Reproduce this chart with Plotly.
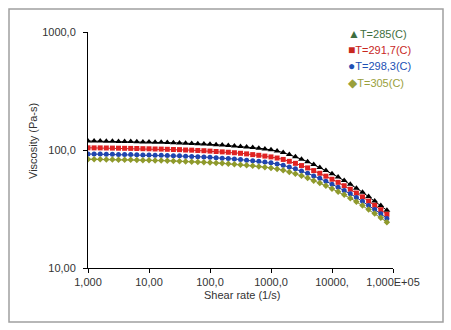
import plotly.graph_objects as go

shear_rate = [1.0, 1.259, 1.585, 1.995, 2.512, 3.162, 3.981, 5.012, 6.310, 7.943,
              10.0, 12.59, 15.85, 19.95, 25.12, 31.62, 39.81, 50.12, 63.10, 79.43,
              100.0, 125.9, 158.5, 199.5, 251.2, 316.2, 398.1, 501.2, 631.0, 794.3,
              1000.0, 1259, 1585, 1995, 2512, 3162, 3981, 5012, 6310, 7943,
              10000, 12590, 15850, 19950, 25120, 31620, 39810, 50120, 63100, 79430]

visc_285 = [119.2, 119.0, 119.0, 118.7, 118.5, 118.3, 118.0, 117.8, 117.6, 117.1,
            116.9, 116.4, 116.2, 115.8, 115.3, 114.9, 114.2, 113.8, 113.1, 112.5,
            111.8, 110.9, 110.1, 109.2, 108.2, 107.1, 106.1, 104.8, 103.6, 102.2,
            100.6, 98.1, 95.1, 91.4, 87.6, 83.6, 79.6, 75.2, 71.2, 67.0,
            62.9, 59.0, 55.1, 51.3, 47.5, 43.9, 40.3, 37.0, 33.8, 30.8]

visc_2917 = [104.4, 104.2, 104.2, 104.0, 103.8, 103.6, 103.4, 103.2, 103.0, 102.6,
             102.4, 102.0, 101.8, 101.4, 101.0, 100.7, 100.0, 99.7, 99.1, 98.6,
             97.9, 97.1, 96.4, 95.7, 94.8, 93.8, 92.7, 91.4, 90.2, 88.8,
             87.4, 85.5, 83.2, 80.2, 77.1, 73.8, 70.5, 66.9, 63.5, 60.0,
             56.5, 53.2, 49.8, 46.5, 43.2, 40.1, 36.9, 34.0, 31.2, 28.5]

visc_2983 = [92.5, 92.3, 92.3, 92.1, 92.0, 91.8, 91.6, 91.4, 91.3, 90.9,
             90.7, 90.3, 90.2, 89.9, 89.5, 89.2, 88.6, 88.3, 87.8, 87.3,
             86.8, 85.9, 85.3, 84.6, 83.9, 83.0, 82.0, 81.0, 80.1, 79.0,
             77.8, 76.2, 74.3, 71.7, 69.2, 66.4, 63.5, 60.3, 57.5, 54.3,
             51.3, 48.4, 45.4, 42.5, 39.6, 36.7, 33.9, 31.3, 28.8, 26.3]

visc_305 = [83.4, 83.3, 83.3, 83.1, 83.0, 82.8, 82.6, 82.5, 82.3, 82.0,
            81.8, 81.5, 81.3, 81.1, 80.7, 80.4, 79.9, 79.7, 79.2, 78.8,
            78.3, 77.6, 77.1, 76.4, 75.7, 75.0, 74.3, 73.4, 72.5, 71.5,
            70.4, 69.1, 67.4, 65.2, 62.9, 60.4, 57.9, 55.0, 52.5, 49.7,
            46.9, 44.3, 41.7, 39.0, 36.4, 33.8, 31.3, 28.9, 26.6, 24.4]

series_names = ["T=285(C)", "T=291,7(C)", "T=298,3(C)", "T=305(C)"]

x_tickvals = [1, 10, 100, 1000, 10000, 100000]
x_ticktext = ["1,000", "10,00", "100,0", "1000,0", "10000,", "1,000E+05"]
y_tickvals = [10, 100, 1000]
y_ticktext = ["10,00", "100,0", "1000,0"]

FONT = "Liberation Sans, Arial, DejaVu Sans, sans-serif"

fig = go.Figure()
styles = [
    (visc_285, "#000000", "#000000", "triangle-up", 6),
    (visc_2917, "#e02222", "#c02020", "square", 5),
    (visc_2983, "#1f45b0", "#1f3a90", "circle", 5),
    (visc_305, "#8f9a2c", "#7f8a2a", "diamond", 5),
]
for (vals, mcol, lcol, sym, sz), name in zip(styles, series_names):
    fig.add_trace(go.Scatter(
        x=shear_rate, y=vals, name=name, mode="lines+markers",
        line=dict(color=lcol, width=1),
        marker=dict(symbol=sym, size=sz, color=mcol, line=dict(width=0)),
        showlegend=False))

# legend as annotations (legend glyph colours differ from plotted ones)
legend_items = [
    ("\u25B2", "#3e6e3e", series_names[0]),
    ("\u25A0", "#c8281e", series_names[1]),
    ("\u25CF", "#2050b4", series_names[2]),
    ("\u25C6", "#9aa03c", series_names[3]),
]
legend_y_px = [34, 50, 66, 83]
for (glyph, col, name), ypx in zip(legend_items, legend_y_px):
    fig.add_annotation(
        xref="paper", yref="paper",
        x=(346 - 88) / 305, y=(268 - ypx) / 236,
        xanchor="left", yanchor="middle", showarrow=False,
        text=f"<span style='font-size:12px'>{glyph}</span>{name}",
        font=dict(family=FONT, size=11, color=col))

fig.add_annotation(xref="paper", yref="paper", x=(242 - 88) / 305, y=(268 - 295) / 236,
                   text="Shear rate (1/s)", showarrow=False,
                   xanchor="center", yanchor="middle",
                   font=dict(family=FONT, size=11, color="#333333"))
fig.add_annotation(xref="paper", yref="paper", x=(33 - 88) / 305, y=(268 - 141) / 236,
                   text="Viscosity (Pa-s)", showarrow=False, textangle=-90,
                   xanchor="center", yanchor="middle",
                   font=dict(family=FONT, size=11, color="#333333"))

# outer frame
fig.add_shape(type="rect", xref="paper", yref="paper",
              x0=(9 - 88) / 305, x1=(443 - 88) / 305,
              y0=(268 - 322) / 236, y1=(268 - 9) / 236,
              line=dict(color="#a0a0a0", width=1.5), fillcolor="rgba(0,0,0,0)")

fig.update_layout(
    width=451, height=330,
    margin=dict(l=88, r=58, t=32, b=62),
    paper_bgcolor="white", plot_bgcolor="white",
    font=dict(family=FONT, size=11, color="#333333"),
    xaxis=dict(type="log", range=[0, 5], tickvals=x_tickvals, ticktext=x_ticktext,
               showgrid=False, zeroline=False, showline=True, linecolor="#000000",
               linewidth=1, ticks="outside", ticklen=4, tickcolor="#000000",
               tickfont=dict(family=FONT, size=11, color="#333333")),
    yaxis=dict(type="log", range=[1, 3], tickvals=y_tickvals, ticktext=y_ticktext,
               showgrid=False, zeroline=False, showline=True, linecolor="#000000",
               linewidth=1, ticks="outside", ticklen=4, tickcolor="#000000",
               ticklabelstandoff=5,
               tickfont=dict(family=FONT, size=11, color="#333333")),
)

fig.write_html("out.html")
